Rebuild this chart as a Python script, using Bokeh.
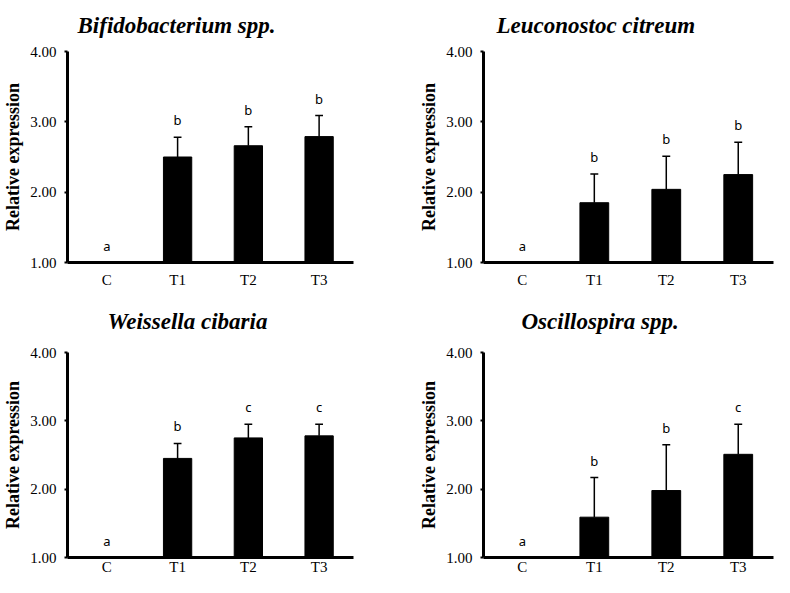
from bokeh.plotting import figure
from bokeh.layouts import column, row
from bokeh.models import Range1d, FixedTicker, Title
from bokeh.core.properties import value
from bokeh.embed import file_html
from bokeh.resources import INLINE

categories = ["C", "T1", "T2", "T3"]
y_ticks = [1.0, 2.0, 3.0, 4.0]
y_tick_labels = ["1.00", "2.00", "3.00", "4.00"]

bif_title = "Bifidobacterium spp."
bif_mean = [1.00, 2.50, 2.66, 2.79]
bif_err = [0.00, 0.28, 0.27, 0.30]
bif_letters = ["a", "b", "b", "b"]

leu_title = "Leuconostoc citreum"
leu_mean = [1.00, 1.85, 2.04, 2.25]
leu_err = [0.00, 0.41, 0.47, 0.46]
leu_letters = ["a", "b", "b", "b"]

wei_title = "Weissella cibaria"
wei_mean = [1.00, 2.45, 2.75, 2.78]
wei_err = [0.00, 0.22, 0.20, 0.17]
wei_letters = ["a", "b", "c", "c"]

osc_title = "Oscillospira spp."
osc_mean = [1.00, 1.59, 1.98, 2.51]
osc_err = [0.00, 0.58, 0.67, 0.44]
osc_letters = ["a", "b", "b", "c"]

SERIF = "Liberation Serif"


def panel(title, means, errs, letters, width, height, left, right, top, bottom,
          x_start, x_end, title_offset, title_standoff, tick_standoff_x):
    xs = list(range(len(categories)))
    p = figure(width=width, height=height, output_backend="svg", toolbar_location=None,
               x_range=Range1d(x_start, x_end), y_range=Range1d(1, 4),
               min_border_left=left, min_border_right=right,
               min_border_top=top, min_border_bottom=bottom)
    p.outline_line_color = None
    p.grid.visible = False
    p.background_fill_color = "white"
    p.border_fill_color = "white"

    p.add_layout(Title(text=title, text_font=SERIF, text_font_style="bold italic",
                       text_font_size="23px", align="left", vertical_align="top",
                       offset=title_offset, standoff=title_standoff,
                       text_color="black"), "above")

    p.vbar(x=xs, top=means, bottom=1.0, width=0.4, fill_color="black", line_color="black")

    ex = [x for x, e in zip(xs, errs) if e > 0]
    ey0 = [m for m, e in zip(means, errs) if e > 0]
    ey1 = [m + e for m, e in zip(means, errs) if e > 0]
    p.segment(x0=ex, y0=ey0, x1=ex, y1=ey1, line_color="black", line_width=1.5)
    p.segment(x0=[x - 0.055 for x in ex], y0=ey1, x1=[x + 0.055 for x in ex], y1=ey1,
              line_color="black", line_width=1.5)

    tops = [m + e for m, e in zip(means, errs)]
    p.text(x=xs, y=tops, text=letters, y_offset=-17, text_align="center",
           text_baseline="middle", text_font=value("Noto Sans"), text_font_size="13px",
           text_color="black")

    xa = p.xaxis[0]
    xa.ticker = FixedTicker(ticks=xs)
    xa.major_label_overrides = {i: c for i, c in enumerate(categories)}
    xa.major_tick_out = 0
    xa.major_tick_in = 0
    xa.minor_tick_line_color = None
    xa.axis_line_width = 3
    xa.axis_line_color = "black"
    xa.major_label_text_font = SERIF
    xa.major_label_text_font_size = "15px"
    xa.major_label_text_color = "black"
    xa.major_label_standoff = tick_standoff_x

    ya = p.yaxis[0]
    ya.ticker = FixedTicker(ticks=y_ticks)
    ya.major_label_overrides = {t: l for t, l in zip(y_ticks, y_tick_labels)}
    ya.major_tick_out = 3
    ya.major_tick_in = 0
    ya.major_tick_line_width = 2
    ya.minor_tick_line_color = None
    ya.axis_line_width = 3
    ya.axis_line_color = "black"
    ya.major_label_text_font = SERIF
    ya.major_label_text_font_size = "15px"
    ya.major_label_text_color = "black"
    ya.major_label_standoff = 8
    ya.axis_label = "Relative expression"
    ya.axis_label_text_font = SERIF
    ya.axis_label_text_font_style = "bold"
    ya.axis_label_text_font_size = "18px"
    ya.axis_label_text_color = "black"
    ya.axis_label_standoff = 4
    return p


p1 = panel(bif_title, bif_mean, bif_err, bif_letters, 395, 290, 62, 42, 48, 28,
           -0.556, 3.486, 10, 24, 9)
p2 = panel(leu_title, leu_mean, leu_err, leu_letters, 379, 290, 88, 1, 48, 28,
           -0.54, 3.49, 13, 24, 9)
p3 = panel(wei_title, wei_mean, wei_err, wei_letters, 395, 287, 62, 42, 62, 18,
           -0.556, 3.486, 40, 34, 1)
p4 = panel(osc_title, osc_mean, osc_err, osc_letters, 379, 287, 88, 1, 62, 18,
           -0.54, 3.49, 38, 34, 1)

layout = column(row(p1, p2), row(p3, p4))

open("out.html", "w").write(file_html(layout, INLINE))
